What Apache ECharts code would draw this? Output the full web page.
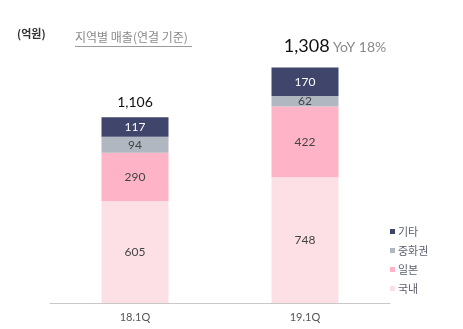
<!DOCTYPE html>
<html>
<head>
<meta charset="utf-8">
<script src="https://cdn.jsdelivr.net/npm/echarts@6/dist/echarts.min.js"></script>
<style>
  html, body { margin: 0; padding: 0; background: #fff; }
  #chart { width: 463px; height: 329px; }
</style>
</head>
<body>
<div id="chart"></div>
<script>
// 분기별 지역 매출 (억원)
const categories = ['18.1Q', '19.1Q'];
const domestic = [605, 748];   // 국내
const japan = [290, 422];      // 일본
const china = [94, 62];        // 중화권
const others = [117, 170];     // 기타
const totalLabels = ['1,106', '1,308'];
const yoyLabels = ['', 'YoY 18%'];

const numFont = 'Lato, "Noto Sans CJK KR", sans-serif';
const krFont = '"Noto Sans CJK KR", sans-serif';

function segment(name, data, color, textColor) {
  return {
    name: name,
    type: 'bar',
    stack: 'sales',
    barWidth: 67,
    data: data,
    itemStyle: { color: color },
    label: {
      show: true,
      position: 'inside',
      color: textColor,
      fontFamily: numFont,
      fontSize: 12
    },
    emphasis: { disabled: true }
  };
}

const chart = echarts.init(document.getElementById('chart'), null, { renderer: 'canvas' });

chart.setOption({
  animation: false,
  backgroundColor: '#ffffff',
  grid: { left: 50, right: 73, top: 51, bottom: 26 },
  xAxis: {
    type: 'category',
    data: categories,
    axisLine: { lineStyle: { color: '#c8c8c8', width: 1 } },
    axisTick: { show: false },
    axisLabel: { color: '#555', fontFamily: numFont, fontSize: 11, margin: 9 }
  },
  yAxis: {
    type: 'value',
    min: 0,
    max: 1500,
    show: false
  },
  legend: {
    orient: 'vertical',
    left: 385,
    top: 221,
    itemWidth: 5,
    itemHeight: 5,
    itemGap: 8,
    icon: 'rect',
    data: ['기타', '중화권', '일본', '국내'],
    textStyle: { color: '#5c6170', fontFamily: krFont, fontSize: 11, padding: [0, 0, 0, -2] }
  },
  series: [
    segment('국내', domestic, '#fde0e6', '#444'),
    segment('일본', japan, '#ffb3c6', '#444'),
    segment('중화권', china, '#b0b7c1', '#444'),
    segment('기타', others, '#40456b', '#ffffff'),
    {
      name: '합계',
      type: 'bar',
      stack: 'sales',
      barWidth: 67,
      data: categories.map((c, i) => ({
        value: 0,
        label: i === 1 ? { offset: [30, -4] } : {}
      })),
      itemStyle: { color: 'transparent' },
      label: {
        show: true,
        position: 'top',
        distance: 8,
        formatter: (p) => {
          const t = '{t' + p.dataIndex + '|' + totalLabels[p.dataIndex] + '}';
          return yoyLabels[p.dataIndex] ? t + ' {y|' + yoyLabels[p.dataIndex] + '}' : t;
        },
        rich: {
          t0: { color: '#111', fontFamily: numFont, fontSize: 14 },
          t1: { color: '#111', fontFamily: numFont, fontSize: 18 },
          y: { color: '#8a8a8a', fontFamily: numFont, fontSize: 14, padding: [2, 0, 0, 0] }
        }
      },
      emphasis: { disabled: true }
    }
  ],
  graphic: [
    {
      type: 'text',
      left: 17,
      top: 28,
      style: { text: '(억원)', fill: '#333', font: 'bold 11px "Noto Sans CJK KR", sans-serif' }
    },
    {
      type: 'text',
      left: 75,
      top: 31,
      style: { text: '지역별 매출(연결 기준)', fill: '#8a8a8a', font: '12px "Noto Sans CJK KR", sans-serif' }
    },
    {
      type: 'line',
      shape: { x1: 75, y1: 46.5, x2: 192, y2: 46.5 },
      style: { stroke: '#9a9a9a', lineWidth: 1 }
    }
  ]
});
</script>
</body>
</html>
